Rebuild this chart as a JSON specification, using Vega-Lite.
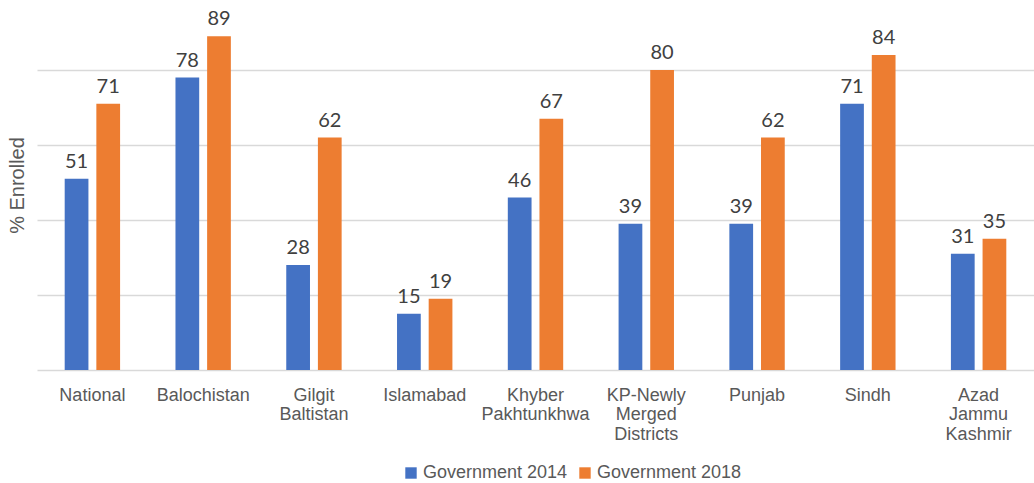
{
  "$schema": "https://vega.github.io/schema/vega-lite/v6.json",
  "width": 997,
  "height": 370,
  "autosize": {"type": "none"},
  "padding": {"left": 37, "top": 0, "right": 0, "bottom": 113},
  "background": "white",
  "config": {
    "view": {"stroke": null},
    "font": "Liberation Sans"
  },
  "data": {
    "values": [
      {"region": "National", "series": "Government 2014", "value": 51},
      {"region": "National", "series": "Government 2018", "value": 71},
      {"region": "Balochistan", "series": "Government 2014", "value": 78},
      {"region": "Balochistan", "series": "Government 2018", "value": 89},
      {"region": "Gilgit Baltistan", "series": "Government 2014", "value": 28},
      {"region": "Gilgit Baltistan", "series": "Government 2018", "value": 62},
      {"region": "Islamabad", "series": "Government 2014", "value": 15},
      {"region": "Islamabad", "series": "Government 2018", "value": 19},
      {"region": "Khyber Pakhtunkhwa", "series": "Government 2014", "value": 46},
      {"region": "Khyber Pakhtunkhwa", "series": "Government 2018", "value": 67},
      {"region": "KP-Newly Merged Districts", "series": "Government 2014", "value": 39},
      {"region": "KP-Newly Merged Districts", "series": "Government 2018", "value": 80},
      {"region": "Punjab", "series": "Government 2014", "value": 39},
      {"region": "Punjab", "series": "Government 2018", "value": 62},
      {"region": "Sindh", "series": "Government 2014", "value": 71},
      {"region": "Sindh", "series": "Government 2018", "value": 84},
      {"region": "Azad Jammu Kashmir", "series": "Government 2014", "value": 31},
      {"region": "Azad Jammu Kashmir", "series": "Government 2018", "value": 35}
    ]
  },
  "encoding": {
    "x": {
      "field": "region",
      "type": "nominal",
      "sort": null,
      "scale": {"paddingInner": 0.5, "paddingOuter": 0.25},
      "axis": {
        "title": null,
        "labelAngle": 0,
        "domain": false,
        "ticks": false,
        "labelFont": "Liberation Sans",
        "labelFontSize": 18,
        "labelColor": "#595959",
        "labelPadding": 16,
        "labelLineHeight": 19.5,
        "labelBaseline": "top",
        "labelExpr": "split(datum.value, ' ')"
      }
    },
    "xOffset": {
      "field": "series",
      "type": "nominal",
      "scale": {"paddingInner": 0.25, "paddingOuter": 0}
    },
    "y": {
      "field": "value",
      "type": "quantitative",
      "scale": {"domain": [0, 98.7], "nice": false},
      "axis": {
        "title": "% Enrolled",
        "titleFont": "Liberation Sans",
        "titleFontSize": 20,
        "titleFontWeight": "normal",
        "titleColor": "#595959",
        "titlePadding": 10,
        "labels": false,
        "ticks": false,
        "domain": false,
        "values": [0, 20, 40, 60, 80],
        "gridColor": "#d9d9d9",
        "gridWidth": 1.5
      }
    }
  },
  "layer": [
    {
      "mark": {"type": "bar"},
      "encoding": {
        "color": {
          "field": "series",
          "type": "nominal",
          "scale": {"range": ["#4472C4", "#ED7D31"]},
          "legend": {
            "title": null,
            "orient": "none",
            "legendX": 365,
            "legendY": 464,
            "direction": "horizontal",
            "symbolType": "square",
            "symbolSize": 130,
            "symbolStrokeWidth": 0,
            "labelFont": "Liberation Sans",
            "labelFontSize": 18,
            "labelColor": "#595959",
            "columnPadding": 8,
            "labelOffset": 3
          }
        }
      }
    },
    {
      "mark": {
        "type": "text",
        "baseline": "bottom",
        "dy": -7,
        "font": "Lato",
        "fontSize": 20,
        "color": "#404040"
      },
      "encoding": {
        "text": {"field": "value", "type": "quantitative"}
      }
    }
  ]
}
